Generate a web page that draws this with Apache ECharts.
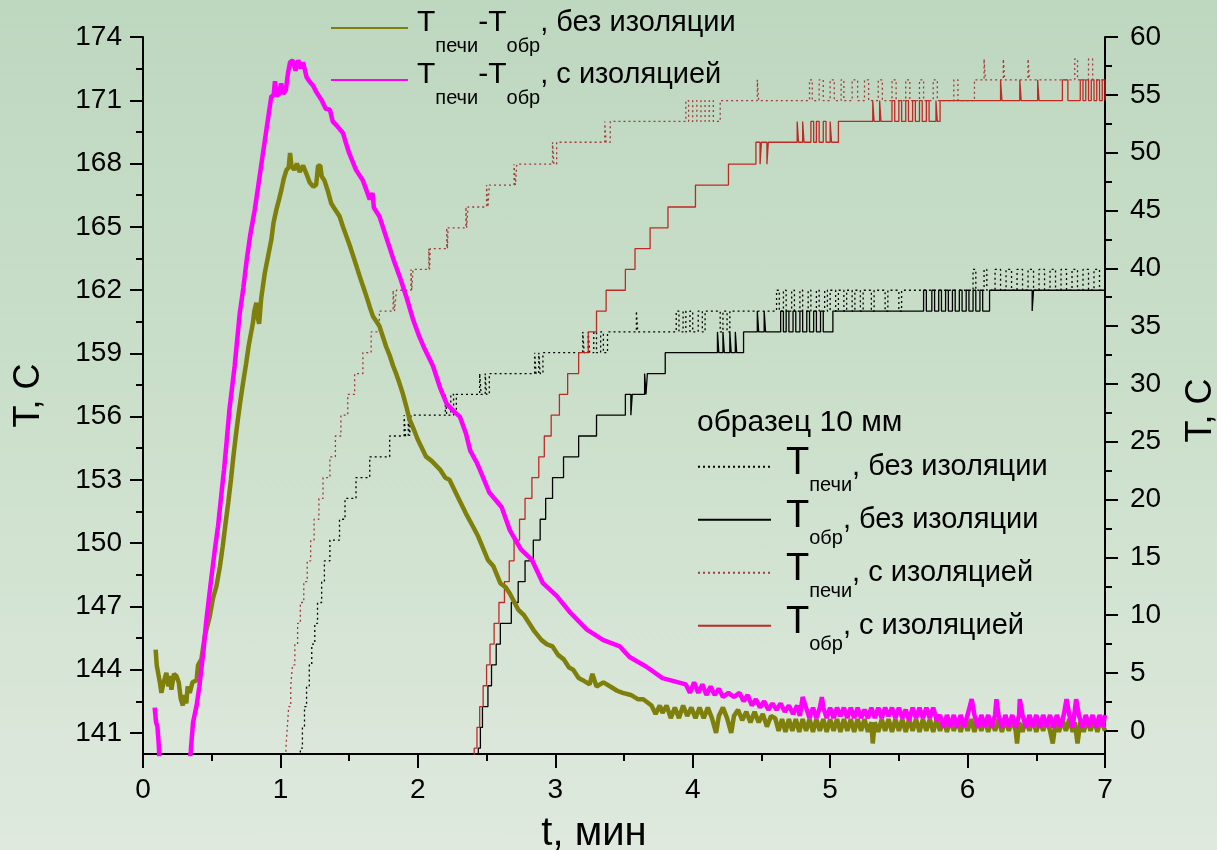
<!DOCTYPE html>
<html>
<head>
<meta charset="utf-8">
<script src="https://cdn.jsdelivr.net/npm/echarts@6/dist/echarts.min.js"></script>
<style>
html,body{margin:0;padding:0;overflow:hidden;width:1217px;height:850px;}
body{background:linear-gradient(to bottom,#bed7bf 0%,#cadfca 45%,#dfe9de 100%);}
#chart{width:1217px;height:850px;}
</style>
</head>
<body>
<div id="chart"></div>
<script>
// ---- data (t in minutes) ----
// left axis: T_печи - T_обр
const diffNoIns = [
[0.092,144.95],[0.10,144.2],[0.11,143.85],[0.125,143.3],[0.134,142.9],[0.15,143.4],[0.17,143.85],[0.185,143.2],[0.195,143.7],[0.207,143.05],[0.225,143.8],[0.243,143.7],[0.26,143.4],[0.275,142.6],[0.29,142.3],[0.30,142.8],[0.315,142.4],[0.325,143.2],[0.34,142.9],[0.36,143.4],[0.39,143.5],[0.40,144.2],[0.425,144.5],[0.45,145.6],[0.485,146.5],[0.51,147.4],[0.534,147.95],[0.56,148.9],[0.58,149.85],[0.60,150.9],[0.62,151.9],[0.64,153.0],[0.655,153.95],[0.67,154.8],[0.69,155.85],[0.71,156.8],[0.728,157.6],[0.75,158.5],[0.77,159.4],[0.79,160.1],[0.80,160.45],[0.81,161.0],[0.825,161.4],[0.835,160.7],[0.845,160.4],[0.86,161.6],[0.886,162.8],[0.91,163.6],[0.934,164.4],[0.95,165.2],[0.97,165.8],[0.99,166.3],[1.007,166.75],[1.025,167.3],[1.044,167.7],[1.06,167.8],[1.07,168.5],[1.08,167.9],[1.10,167.7],[1.12,168.0],[1.14,167.6],[1.165,167.9],[1.19,167.5],[1.213,167.1],[1.24,166.9],[1.26,167.0],[1.274,167.9],[1.29,167.9],[1.30,167.4],[1.32,167.2],[1.345,166.7],[1.37,166.1],[1.40,165.8],[1.43,165.5],[1.455,165.0],[1.48,164.55],[1.505,164.1],[1.53,163.6],[1.555,163.1],[1.577,162.65],[1.60,162.2],[1.626,161.7],[1.65,161.2],[1.674,160.75],[1.70,160.5],[1.72,160.3],[1.745,159.8],[1.77,159.3],[1.795,158.9],[1.82,158.4],[1.844,158.0],[1.865,157.6],[1.89,157.1],[1.915,156.5],[1.94,155.85],[1.97,155.4],[2.00,154.9],[2.03,154.5],[2.06,154.1],[2.10,153.9],[2.16,153.5],[2.20,153.1],[2.23,153.0],[2.26,152.6],[2.29,152.2],[2.35,151.4],[2.40,150.8],[2.44,150.3],[2.51,149.2],[2.55,148.9],[2.60,148.1],[2.64,147.9],[2.67,147.6],[2.73,146.85],[2.77,146.6],[2.81,146.2],[2.85,145.8],[2.90,145.4],[2.94,145.2],[2.98,145.1],[3.02,144.7],[3.06,144.5],[3.10,144.1],[3.13,144.0],[3.17,143.6],[3.20,143.5],[3.25,143.3],[3.27,143.8],[3.30,143.2],[3.35,143.4],[3.40,143.2],[3.45,143.0],[3.49,142.9],[3.55,142.8],[3.60,142.6],[3.64,142.6],
[3.70,142.3],[3.73,141.9],[3.76,142.3],[3.78,141.95],[3.81,142.3],[3.84,141.7],[3.87,142.2],[3.90,141.7],[3.93,142.3],[3.96,141.8],[3.99,142.2],[4.02,141.7],[4.05,142.2],[4.08,141.7],[4.11,142.2],[4.14,141.7],[4.17,141.0],[4.19,141.8],[4.22,142.2],[4.25,141.7],[4.28,141.0],[4.30,141.8],[4.33,142.1],[4.36,141.6],[4.39,142.0],[4.42,141.5],[4.45,142.0],[4.48,141.5],[4.51,141.9],[4.54,141.3],[4.57,141.8],
[4.6,141.7],[4.625,141.1],[4.65,141.65],[4.675,141.05],[4.7,141.65],[4.725,141.1],[4.75,141.65],[4.775,141.05],[4.8,141.65],[4.825,141.1],[4.85,141.65],[4.875,141.05],[4.9,141.65],[4.925,141.1],[4.95,141.65],[4.975,141.05],[5.0,141.65],[5.025,141.1],[5.05,141.65],[5.075,141.05],[5.1,141.65],[5.125,141.1],[5.15,141.65],[5.175,141.05],[5.2,141.65],[5.225,141.1],[5.25,141.65],[5.275,141.05],[5.3,141.5],[5.31,140.5],[5.325,141.5],[5.35,141.05],[5.375,141.65],[5.4,141.1],[5.425,141.65],[5.45,141.05],[5.475,141.65],[5.5,141.1],[5.525,141.65],[5.55,141.05],[5.575,141.65],[5.6,141.1],[5.625,141.65],[5.65,141.05],[5.675,141.65],[5.7,141.1],[5.725,141.65],[5.75,141.05],[5.775,141.65],[5.8,141.1],[5.825,141.65],[5.85,141.05],[5.875,141.65],[5.9,141.1],[5.925,141.65],[5.95,141.05],[5.975,141.65],[6.0,141.1],[6.025,141.65],[6.05,141.05],[6.075,141.65],[6.1,141.1],[6.125,141.65],[6.15,141.05],[6.175,141.65],[6.2,141.1],[6.225,141.65],[6.25,141.05],[6.275,141.65],[6.3,141.1],[6.325,141.65],[6.35,141.1],[6.36,140.5],[6.375,141.5],[6.4,141.05],[6.425,141.65],[6.45,141.1],[6.475,141.65],[6.5,141.05],[6.525,141.65],[6.55,141.1],[6.575,141.65],[6.6,141.1],[6.62,140.5],[6.64,141.5],[6.665,141.05],[6.69,141.65],[6.715,141.1],[6.74,141.65],[6.765,141.05],[6.78,141.5],[6.80,140.5],[6.82,141.5],[6.845,141.05],[6.87,141.65],[6.895,141.1],[6.92,141.65],[6.945,141.05],[6.97,141.65],[7.0,141.1]
];
const diffIns = [
[0.085,142.2],[0.095,141.5],[0.105,141.3],[0.115,140.4],[0.125,139.0],[0.33,139.0],[0.347,140.1],[0.364,141.5],[0.39,142.3],[0.41,143.2],[0.44,144.9],[0.46,146.3],[0.48,147.4],[0.50,148.5],[0.525,149.8],[0.546,150.8],[0.57,152.3],[0.59,153.5],[0.607,154.7],[0.63,156.4],[0.667,158.4],[0.704,160.9],[0.73,162.1],[0.752,163.3],[0.78,164.6],[0.813,165.8],[0.84,167.0],[0.862,168.0],[0.898,169.6],[0.934,171.2],[0.95,171.2],[0.96,171.9],[0.97,171.2],[0.99,171.3],[1.005,171.8],[1.02,171.3],[1.04,171.5],[1.055,172.3],[1.07,172.8],[1.09,172.9],[1.11,172.4],[1.13,172.9],[1.15,172.5],[1.165,172.8],[1.19,172.1],[1.21,171.9],[1.237,171.7],[1.26,171.4],[1.30,171.0],[1.33,170.6],[1.36,170.55],[1.38,170.0],[1.41,169.8],[1.455,169.45],[1.48,168.9],[1.50,168.5],[1.55,167.7],[1.60,167.2],[1.65,166.3],[1.67,166.6],[1.68,165.9],[1.72,165.5],[1.77,164.5],[1.82,163.5],[1.87,162.6],[1.92,161.6],[1.965,160.6],[2.01,159.8],[2.05,159.2],[2.11,158.4],[2.16,157.4],[2.21,156.6],[2.27,156.2],[2.305,156.0],[2.35,155.2],[2.38,154.4],[2.43,153.8],[2.45,153.5],[2.52,152.4],[2.61,151.7],[2.67,150.6],[2.75,149.7],[2.83,149.2],[2.91,148.1],[3.01,147.5],[3.11,146.7],[3.23,145.9],[3.35,145.4],[3.47,145.1],[3.54,144.6],[3.66,144.15],[3.78,143.6],
[3.95,143.3],[3.98,142.9],[4.01,143.4],[4.04,142.9],[4.07,143.3],[4.10,142.8],[4.13,143.2],[4.16,142.8],[4.19,143.1],[4.22,142.7],[4.26,142.9],[4.30,142.7],[4.34,142.9],[4.37,142.5],[4.40,142.8],[4.43,142.3],[4.46,142.6],[4.49,142.2],[4.52,142.5],[4.55,142.1],[4.58,142.4],[4.61,142.1],[4.64,142.4],[4.67,142.0],[4.70,142.3],[4.73,141.9],[4.76,142.3],[4.78,141.8],
[4.80,142.7],[4.825,142.2],[4.85,141.7],[4.875,142.2],[4.90,141.7],[4.925,142.2],[4.94,142.7],[4.95,142.2],[4.975,141.7],[5.0,142.2],[5.025,141.7],[5.05,142.2],[5.075,141.8],[5.1,142.2],[5.125,141.7],[5.15,142.2],[5.175,141.7],[5.2,142.2],[5.225,141.7],[5.25,142.1],[5.275,141.7],[5.3,142.2],[5.325,141.7],[5.35,142.2],[5.375,141.7],[5.4,142.2],[5.425,141.8],[5.45,142.2],[5.475,141.7],[5.5,142.2],[5.525,141.7],[5.55,142.1],[5.575,141.6],[5.6,142.2],[5.625,141.7],[5.65,142.2],[5.675,141.7],[5.7,142.2],[5.725,141.7],[5.75,142.2],[5.775,141.6],
[5.8,141.85],[5.825,141.25],[5.85,141.85],[5.875,141.3],[5.9,141.85],[5.925,141.25],[5.95,141.85],[5.975,141.3],[6.0,141.85],[6.03,142.6],[6.05,141.85],[6.075,141.25],[6.1,141.85],[6.125,141.3],[6.15,141.85],[6.175,141.25],[6.2,141.85],[6.21,142.6],[6.225,141.85],[6.25,141.25],[6.275,141.85],[6.3,141.3],[6.325,141.85],[6.35,141.25],[6.375,141.85],[6.38,142.6],[6.4,141.85],[6.425,141.25],[6.45,141.85],[6.475,141.3],[6.5,141.85],[6.525,141.25],[6.55,141.85],[6.575,141.3],[6.6,141.85],[6.625,141.25],[6.65,141.85],[6.675,141.3],[6.7,141.85],[6.72,142.6],[6.74,141.85],[6.765,141.25],[6.79,142.6],[6.81,141.85],[6.835,141.25],[6.86,141.85],[6.885,141.3],[6.91,141.85],[6.935,141.25],[6.96,141.85],[6.985,141.3],[7.0,141.85]
];
// right axis: temperatures (step data: [t, value from t on])
const pechNoIns = [
[1.12,-3.3],[1.145,-1.5],[1.16,0.3],[1.175,2.1],[1.19,3.9],[1.21,5.7],[1.228,7.5],[1.25,9.3],[1.27,11.1],[1.30,12.9],[1.32,14.7],[1.36,16.5],[1.43,18.3],[1.47,20.1],[1.55,21.9],[1.65,23.7],[1.795,25.5],[1.90,27.3],[1.91,25.5],[1.93,27.3],[1.94,25.5],[1.95,27.3],[2.20,29.1],[2.21,27.3],[2.24,29.1],[2.26,27.3],[2.28,29.1],[2.45,30.9],[2.46,29.1],[2.49,30.9],[2.50,29.1],[2.52,30.9],[2.85,32.7],[2.86,30.9],[2.88,32.7],[2.89,30.9],[2.91,32.7],[3.20,34.5],[3.21,32.7],[3.24,34.5],[3.25,32.7],[3.28,34.5],[3.30,32.7],[3.33,34.5],[3.35,32.7],[3.38,34.5],[3.59,36.3],[3.60,34.5],[3.88,36.3],[3.90,34.5],[3.93,36.3],[3.95,34.5],[3.98,36.3],[4.0,34.5],[4.04,36.3],[4.07,34.5],[4.09,36.3],[4.2,34.5],[4.22,36.3],[4.25,34.5],[4.27,36.3],[4.61,38.1],[4.63,36.3],[4.66,38.1],[4.68,36.3],[4.72,38.1],[4.74,36.3],[4.78,38.1],[4.8,36.3],[4.84,38.1],[4.86,36.3],[4.9,38.1],[4.92,36.3],[4.96,38.1],[4.98,36.3],[5.0,38.1],[5.04,36.3],[5.06,38.1],[5.1,36.3],[5.12,38.1],[5.16,36.3],[5.18,38.1],[5.22,36.3],[5.24,38.1],[5.3,36.3],[5.32,38.1],[5.4,36.3],[5.42,38.1],[5.5,36.3],[5.52,38.1],[6.04,39.9],[6.06,38.1],[6.12,39.9],[6.14,38.1],[6.2,39.9],[6.24,38.1],[6.28,39.9],[6.32,38.1],[6.36,39.9],[6.4,38.1],[6.44,39.9],[6.48,38.1],[6.52,39.9],[6.56,38.1],[6.6,39.9],[6.64,38.1],[6.68,39.9],[6.72,38.1],[6.76,39.9],[6.8,38.1],[6.84,39.9],[6.88,38.1],[6.92,39.9],[6.96,38.1],[7.0,39.9]
];
const obrNoIns = [
[2.42,-3.3],[2.44,-1.5],[2.455,0.3],[2.47,2.1],[2.51,3.9],[2.536,5.7],[2.57,7.5],[2.60,9.3],[2.68,11.1],[2.73,12.9],[2.78,14.7],[2.84,16.5],[2.89,18.3],[2.93,20.1],[2.98,21.9],[3.06,23.7],[3.17,25.5],[3.30,27.3],[3.51,29.1],[3.55,27.3],[3.56,29.1],[3.65,30.9],[3.66,29.1],[3.67,30.9],[3.80,32.7],[4.18,34.5],[4.19,32.7],[4.22,34.5],[4.23,32.7],[4.27,34.5],[4.28,32.7],[4.31,34.5],[4.32,32.7],[4.37,34.5],[4.47,36.3],[4.48,34.5],[4.52,36.3],[4.53,34.5],[4.64,36.3],[4.66,34.5],[4.68,36.3],[4.70,34.5],[4.73,36.3],[4.75,34.5],[4.78,36.3],[4.80,34.5],[4.83,36.3],[4.85,34.5],[4.88,36.3],[4.90,34.5],[4.93,36.3],[4.95,34.5],[5.02,36.3],[5.68,38.1],[5.70,36.3],[5.74,38.1],[5.76,36.3],[5.79,38.1],[5.81,36.3],[5.84,38.1],[5.86,36.3],[5.89,38.1],[5.91,36.3],[5.94,38.1],[5.96,36.3],[5.99,38.1],[6.01,36.3],[6.04,38.1],[6.06,36.3],[6.09,38.1],[6.11,36.3],[6.16,38.1],[6.47,36.3],[6.48,38.1],[7.0,38.1]
];
const pechIns = [
[1.02,-3.3],[1.04,-1.5],[1.05,0.3],[1.06,2.1],[1.075,3.9],[1.088,5.7],[1.105,7.5],[1.125,9.3],[1.145,11.1],[1.17,12.9],[1.195,14.7],[1.22,16.5],[1.245,18.3],[1.28,20.1],[1.31,21.9],[1.36,23.7],[1.40,25.5],[1.44,27.3],[1.49,29.1],[1.54,30.9],[1.60,32.7],[1.66,34.5],[1.72,36.3],[1.82,38.1],[1.83,36.3],[1.844,38.1],[1.95,39.9],[1.955,38.1],[1.965,39.9],[2.08,41.7],[2.085,39.9],[2.09,41.7],[2.21,43.5],[2.215,41.7],[2.22,43.5],[2.35,45.3],[2.355,43.5],[2.365,45.3],[2.50,47.2],[2.51,45.3],[2.52,47.2],[2.70,49.0],[2.71,47.2],[2.72,49.0],[2.98,50.9],[2.99,49.0],[3.01,50.9],[3.36,52.7],[3.37,50.9],[3.40,52.7],[3.95,54.5],[3.97,52.7],[4.0,54.5],[4.03,52.7],[4.06,54.5],[4.09,52.7],[4.12,54.5],[4.15,52.7],[4.2,54.5],[4.47,56.3],[4.48,54.5],[4.85,56.3],[4.87,54.5],[4.92,56.3],[4.95,54.5],[5.0,56.3],[5.03,54.5],[5.08,56.3],[5.1,54.5],[5.16,56.3],[5.2,54.5],[5.25,56.3],[5.28,54.5],[5.35,56.3],[5.38,54.5],[5.45,56.3],[5.48,54.5],[5.55,56.3],[5.58,54.5],[5.65,56.3],[5.68,54.5],[5.75,56.3],[5.78,54.5],[5.9,56.3],[5.93,54.5],[6.05,56.3],[6.12,58.1],[6.13,56.3],[6.26,58.1],[6.27,56.3],[6.44,58.1],[6.45,56.3],[6.78,58.1],[6.80,56.3],[6.88,58.1],[6.91,56.3],[7.0,56.3]
];
const obrIns = [
[2.38,-3.3],[2.41,-1.5],[2.43,0.3],[2.45,2.1],[2.475,3.9],[2.50,5.7],[2.525,7.5],[2.555,9.3],[2.59,11.1],[2.63,12.9],[2.665,14.7],[2.70,16.5],[2.74,18.3],[2.78,20.1],[2.83,21.9],[2.88,23.7],[2.92,25.5],[2.97,27.3],[3.03,29.1],[3.09,30.9],[3.17,32.7],[3.24,34.5],[3.30,36.3],[3.37,38.1],[3.51,39.9],[3.58,41.7],[3.69,43.5],[3.82,45.3],[4.02,47.2],[4.26,49.0],[4.46,50.9],[4.49,49.0],[4.50,50.9],[4.54,49.0],[4.55,50.9],[4.76,52.7],[4.77,50.9],[4.80,52.7],[4.81,50.9],[4.86,52.7],[4.88,50.9],[4.90,52.7],[4.92,50.9],[4.95,52.7],[4.97,50.9],[5.0,52.7],[5.01,50.9],[5.06,52.7],[5.31,54.5],[5.32,52.7],[5.36,54.5],[5.37,52.7],[5.45,54.5],[5.47,52.7],[5.5,54.5],[5.52,52.7],[5.55,54.5],[5.57,52.7],[5.6,54.5],[5.62,52.7],[5.65,54.5],[5.67,52.7],[5.70,54.5],[5.72,52.7],[5.77,54.5],[5.78,52.7],[5.8,54.5],[6.24,56.3],[6.25,54.5],[6.38,56.3],[6.39,54.5],[6.51,56.3],[6.52,54.5],[6.69,56.3],[6.73,54.5],[6.82,56.3],[6.84,54.5],[6.86,56.3],[6.88,54.5],[6.90,56.3],[6.92,54.5],[6.94,56.3],[6.96,54.5],[6.98,56.3],[7.0,54.5]
];
// tick labels
const leftTicks = [141,144,147,150,153,156,159,162,165,168,171,174];
const leftMinor = [142.5,145.5,148.5,151.5,154.5,157.5,160.5,163.5,166.5,169.5,172.5];
const rightTicks = [0,5,10,15,20,25,30,35,40,45,50,55,60];
const rightMinor = [2.5,7.5,12.5,17.5,22.5,27.5,32.5,37.5,42.5,47.5,52.5,57.5];

const names = {
  a: 'Tпечи-Tобр, без изоляции',
  b: 'Tпечи-Tобр, с изоляцией',
  c: 'Tпечи, без изоляции',
  d: 'Tобр, без изоляции',
  e: 'Tпечи, с изоляцией',
  f: 'Tобр, с изоляцией'
};
const richLabel = {};
richLabel[names.a] = '{T0|T}{s|печи}{T|-T}{s|обр}{b|, без изоляции}';
richLabel[names.b] = '{T0|T}{s|печи}{T|-T}{s|обр}{b|, с изоляцией}';
richLabel[names.c] = '{T|T}{s|печи}{b|, без изоляции}';
richLabel[names.d] = '{T|T}{s|обр}{b|, без изоляции}';
richLabel[names.e] = '{T|T}{s|печи}{b|, с изоляцией}';
richLabel[names.f] = '{T|T}{s|обр}{b|, с изоляцией}';

const FF = 'Liberation Sans, Arial, sans-serif';
const chart = echarts.init(document.getElementById('chart'), null, {renderer: 'canvas'});

const axisLineStyle = {color: '#000', width: 2};
const LB1 = 40.6, LB2 = 43.8;
const option = {
  animation: false,
  backgroundColor: 'transparent',
  textStyle: {fontFamily: FF, color: '#000'},
  title: {
    text: 'образец 10 мм', left: 697, top: 408, padding: 0,
    textStyle: {fontFamily: FF, fontSize: 30, fontWeight: 'normal', color: '#000'}
  },
  grid: {left: 143, right: 112, top: 37, bottom: 96, containLabel: false, outerBoundsMode: 'none'},
  legend: [
    {
      data: [names.a, names.b], orient: 'vertical', left: 330, top: 7.7, padding: 0,
      itemWidth: 77, itemHeight: 2, itemGap: 3.5, selectedMode: false,
      itemStyle: {opacity: 0, borderWidth: 0},
      formatter: n => richLabel[n],
      textStyle: {
        fontFamily: FF, color: '#000', lineHeight: LB1,
        rich: {
          T0: {fontFamily: FF, fontSize: 30, lineHeight: LB1, padding: [0,0,0,4], verticalAlign: 'top'},
          T: {fontFamily: FF, fontSize: 30, lineHeight: LB1, verticalAlign: 'top'},
          s: {fontFamily: FF, fontSize: 20, lineHeight: LB1, padding: [28.5,0,0,0], verticalAlign: 'top'},
          b: {fontFamily: FF, fontSize: 29, lineHeight: LB1, padding: [0.85,0,0,0], verticalAlign: 'top'}
        }
      }
    },
    {
      data: [names.c, names.d, names.e, names.f], orient: 'vertical', left: 697, top: 444.8, padding: 0,
      itemWidth: 73, itemHeight: 2, itemGap: 2.7, selectedMode: false,
      itemStyle: {opacity: 0, borderWidth: 0},
      formatter: n => richLabel[n],
      textStyle: {
        fontFamily: FF, color: '#000', lineHeight: LB2,
        rich: {
          T: {fontFamily: FF, fontSize: 38, lineHeight: LB2, padding: [0,0,0,10], verticalAlign: 'top'},
          s: {fontFamily: FF, fontSize: 20, lineHeight: LB2, padding: [30.3,0,0,0], verticalAlign: 'top'},
          b: {fontFamily: FF, fontSize: 29, lineHeight: LB2, padding: [7.65,0,0,0], verticalAlign: 'top'}
        }
      }
    }
  ],
  xAxis: {
    type: 'value', min: 0, max: 7, interval: 1,
    name: 't, мин', nameLocation: 'middle', nameGap: 60,
    nameTextStyle: {fontFamily: FF, fontSize: 40, color: '#000', padding: [0, 60, 0, 0]},
    axisLine: {show: true, onZero: false, lineStyle: axisLineStyle},
    axisTick: {show: true, inside: false, length: 14, lineStyle: axisLineStyle},
    minorTick: {show: true, splitNumber: 2, length: 7, lineStyle: axisLineStyle},
    splitLine: {show: false}, minorSplitLine: {show: false},
    axisLabel: {fontFamily: FF, fontSize: 28, color: '#000', margin: 22}
  },
  yAxis: [
    {
      type: 'value', position: 'left', min: 140, max: 174,
      name: 'T, C', nameLocation: 'middle', nameGap: 96, nameRotate: 90,
      nameTextStyle: {fontFamily: FF, fontSize: 36, color: '#000'},
      axisLine: {show: true, onZero: false, lineStyle: axisLineStyle},
      axisTick: {show: true, inside: false, length: 13, lineStyle: axisLineStyle, customValues: leftTicks},
      axisLabel: {fontFamily: FF, fontSize: 28, color: '#000', margin: 21, align: 'right', customValues: leftTicks},
      splitLine: {show: false}
    },
    {
      type: 'value', position: 'right', min: -2, max: 60,
      name: 'T, C', nameLocation: 'middle', nameGap: 78, nameRotate: 90,
      nameTextStyle: {fontFamily: FF, fontSize: 36, color: '#000', padding: [0, 30, 0, 0]},
      axisLine: {show: true, onZero: false, lineStyle: axisLineStyle},
      axisTick: {show: true, inside: false, length: 13, lineStyle: axisLineStyle, customValues: rightTicks},
      axisLabel: {fontFamily: FF, fontSize: 28, color: '#000', margin: 25, align: 'left', customValues: rightTicks},
      splitLine: {show: false}
    },
    {
      type: 'value', position: 'left', min: 140, max: 174,
      axisLine: {show: false},
      axisTick: {show: true, inside: false, length: 7, lineStyle: axisLineStyle, customValues: leftMinor},
      axisLabel: {show: false},
      splitLine: {show: false}
    },
    {
      type: 'value', position: 'right', min: -2, max: 60,
      axisLine: {show: false},
      axisTick: {show: true, inside: false, length: 7, lineStyle: axisLineStyle, customValues: rightMinor},
      axisLabel: {show: false},
      splitLine: {show: false}
    }
  ],
  series: [
    {name: names.c, type: 'line', yAxisIndex: 1, data: pechNoIns, step: 'end', symbol: 'none', z: 2,
     color: '#000', lineStyle: {color: '#000', width: 1.3, type: [2, 3]}},
    {name: names.d, type: 'line', yAxisIndex: 1, data: obrNoIns, step: 'end', symbol: 'none', z: 2,
     color: '#000', lineStyle: {color: '#000', width: 1.3}},
    {name: names.e, type: 'line', yAxisIndex: 1, data: pechIns, step: 'end', symbol: 'none', z: 2,
     color: '#a23a3a', lineStyle: {color: '#a23a3a', width: 1.3, type: [2, 3]}},
    {name: names.f, type: 'line', yAxisIndex: 1, data: obrIns, step: 'end', symbol: 'none', z: 2,
     color: '#c02a24', lineStyle: {color: '#c02a24', width: 1.3}},
    {name: names.a, type: 'line', yAxisIndex: 0, data: diffNoIns, symbol: 'none', z: 3,
     color: '#7f7f0c', lineStyle: {color: '#7f7f0c', width: 4.5}},
    {name: names.b, type: 'line', yAxisIndex: 0, data: diffIns, symbol: 'none', z: 4,
     color: '#ff00ff', lineStyle: {color: '#ff00ff', width: 4.5}}
  ]
};
chart.setOption(option);
</script>
</body>
</html>
